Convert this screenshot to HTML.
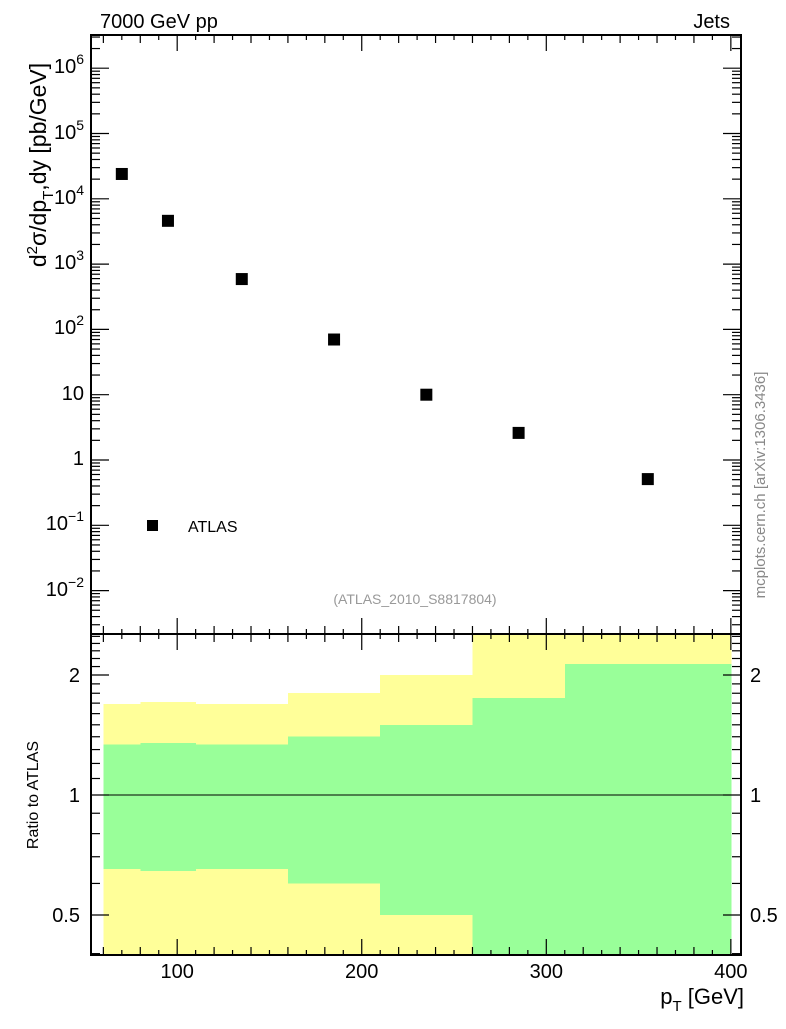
<!DOCTYPE html>
<html><head><meta charset="utf-8"><style>
body{margin:0;background:#fff;}
svg text{font-family:"Liberation Sans",sans-serif;}
</style></head><body>
<svg id="chart" width="786" height="1024" viewBox="0 0 786 1024" xmlns="http://www.w3.org/2000/svg">
<text x="100" y="28" font-size="20">7000 GeV pp</text>
<text x="730" y="28" font-size="20" text-anchor="end">Jets</text>
<g id="bands" shape-rendering="crispEdges"></g>
<g id="axes"></g>
<g id="points"></g>
<text x="415" y="604" font-size="14" fill="#999" text-anchor="middle">(ATLAS_2010_S8817804)</text>
<text transform="translate(765,485) rotate(-90)" font-size="15" fill="#888" text-anchor="middle">mcplots.cern.ch [arXiv:1306.3436]</text>
<text transform="translate(46,165) rotate(-90)" font-size="23" text-anchor="middle">d<tspan font-size="15" dy="-9">2</tspan><tspan dy="9">σ/dp</tspan><tspan font-size="15" dy="7">T</tspan><tspan dy="-7">,dy [pb/GeV]</tspan></text>
<text transform="translate(38,795) rotate(-90)" font-size="16" text-anchor="middle">Ratio to ATLAS</text>
<text x="744" y="1004" font-size="22" text-anchor="end">p<tspan font-size="15" dy="7">T</tspan><tspan dy="-7"> [GeV]</tspan></text>
<rect x="147" y="520" width="11" height="11" fill="#000"/>
<text x="188" y="532" font-size="16">ATLAS</text>
</svg>
<script>
const xCenters=[70,95,135,185,235,285,355];
const yValues=[24000,4600,590,70,10,2.6,0.51];
const binEdges=[60,80,110,160,210,260,310,400];
const yellowUp=[1.69,1.71,1.69,1.80,2.0,2.6,2.6];
const greenUp=[1.34,1.35,1.34,1.40,1.50,1.75,2.13];
const greenLo=[0.652,0.645,0.652,0.60,0.50,0.3,0.3];
const yellowLo=[0.3,0.3,0.3,0.3,0.3,0.3,0.3];
const xTicks=[100,200,300,400];
const yDecades=[-2,-1,0,1,2,3,4,5,6];
const yDecadeLabels=["10<sup>−2</sup>","10<sup>−1</sup>","1","10","10<sup>2</sup>","10<sup>3</sup>","10<sup>4</sup>","10<sup>5</sup>","10<sup>6</sup>"];
const rTicks=[0.5,1,2];
const rTickLabels=["0.5","1","2"];

const NS="http://www.w3.org/2000/svg";
const L=91,R=741,T=35,M=634,B=955;
const xMin=53.3,xMax=405.5;
const X=v=>L+(v-xMin)/(xMax-xMin)*(R-L);
const Y=v=>460-65.3*Math.log10(v);
const RY=v=>Math.min(B,Math.max(M,795-120*Math.log2(v)));
function mk(tag,attrs,parent){const e=document.createElementNS(NS,tag);for(const k in attrs)e.setAttribute(k,attrs[k]);parent.appendChild(e);return e;}
const bands=document.getElementById('bands'),axes=document.getElementById('axes'),pts=document.getElementById('points');

for(let i=0;i<binEdges.length-1;i++){
  const x0=X(binEdges[i]),x1=X(binEdges[i+1])+0.6;
  let r=mk('rect',{x:x0,y:RY(yellowUp[i]),width:x1-x0,height:RY(yellowLo[i])-RY(yellowUp[i]),fill:'#ffff99'},bands);
  
  
}
for(let i=0;i<binEdges.length-1;i++){
  const x0=X(binEdges[i]),x1=X(binEdges[i+1])+0.6;
  let r=mk('rect',{x:x0,y:RY(greenUp[i]),width:x1-x0,height:RY(greenLo[i])-RY(greenUp[i]),fill:'#99ff99'},bands);
  
  
}
let one=mk('line',{x1:L,x2:R,y1:RY(1),y2:RY(1),stroke:'#000','stroke-width':1.2},bands);



let f=mk('rect',{x:L,y:T,width:R-L,height:M-T,fill:'none',stroke:'#000','stroke-width':2},axes);


f=mk('rect',{x:L,y:M,width:R-L,height:B-M,fill:'none',stroke:'#000','stroke-width':2},axes);



for(let v=60;v<=400;v+=10){
  const len=(v%100===0)?16:(v%20===0?8:5);const x=X(v);
  [[T,1],[M,-1],[M,1],[B,-1]].forEach(([y,d])=>mk('line',{x1:x,x2:x,y1:y,y2:y+d*len,stroke:'#000','stroke-width':1.2},axes));
}
xTicks.forEach(v=>{const t=mk('text',{x:X(v),y:978,'font-size':20,'text-anchor':'middle'},axes);t.textContent=v;
  
  });

for(let d=-3;d<=6;d++){for(let m=1;m<10;m++){const v=m*Math.pow(10,d);const y=Y(v);if(y<T||y>M)continue;
  const len=m===1?18:9;
  mk('line',{x1:L,x2:L+len,y1:y,y2:y,stroke:'#000','stroke-width':1.2},axes);
  mk('line',{x1:R,x2:R-len,y1:y,y2:y,stroke:'#000','stroke-width':1.2},axes);}}
yDecades.forEach((d,i)=>{const y=Y(Math.pow(10,d));
  const fo=mk('foreignObject',{x:0,y:y-16,width:84,height:30},axes);
  
  
  fo.innerHTML='<div xmlns="http://www.w3.org/1999/xhtml" style="font:20px \'Liberation Sans\',sans-serif;text-align:right;line-height:30px">'+yDecadeLabels[i].replace('<sup>','<sup style="font-size:14px;vertical-align:9px;line-height:0">')+'</div>';});

for(let v=0.4;v<=2.6;v+=0.1){const y=RY(v);if(y<=M||y>=B)continue;const vv=Math.round(v*10)/10;
  const len=(vv===0.5||vv===1||vv===2)?18:9;
  mk('line',{x1:L,x2:L+len,y1:y,y2:y,stroke:'#000','stroke-width':1.2},axes);
  mk('line',{x1:R,x2:R-len,y1:y,y2:y,stroke:'#000','stroke-width':1.2},axes);}
rTicks.forEach((v,i)=>{
  let t=mk('text',{x:80,y:RY(v)+7,'font-size':20,'text-anchor':'end'},axes);t.textContent=rTickLabels[i];
  
  
  t=mk('text',{x:750,y:RY(v)+7,'font-size':20},axes);t.textContent=rTickLabels[i];
  
  });

xCenters.forEach((xv,i)=>{const r=mk('rect',{x:X(xv)-6,y:Y(yValues[i])-6,width:12,height:12,fill:'#000'},pts);
  
  });
</script>
</body></html>
